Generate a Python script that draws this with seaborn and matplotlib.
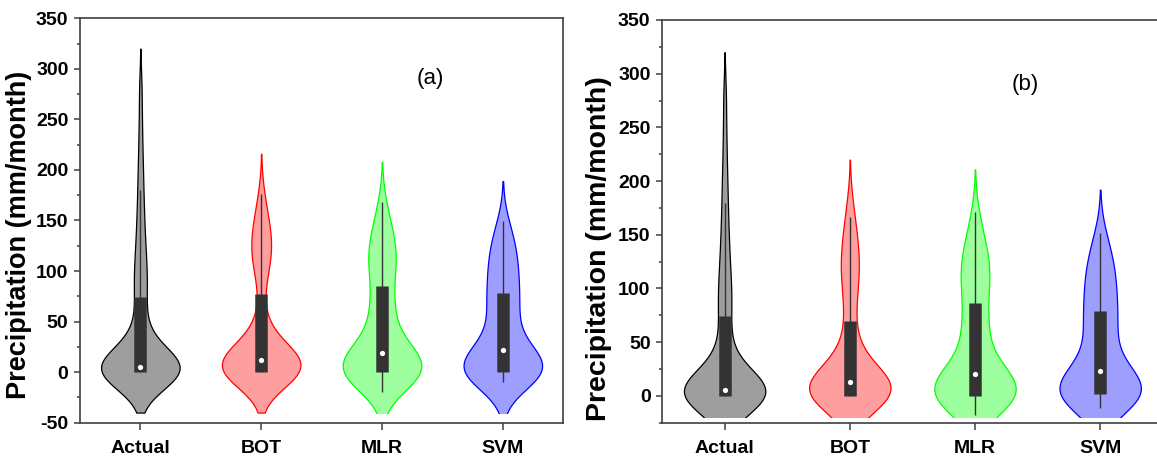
import numpy as np
import pandas as pd
import matplotlib.pyplot as plt
import matplotlib.colors as mcolors
from matplotlib.patches import Rectangle
from matplotlib.ticker import MultipleLocator
import seaborn as sns

# ==============================================================================
# Monthly precipitation samples (mm/month), read off the violins / boxes
# ==============================================================================
models = ["Actual", "BOT", "MLR", "SVM"]
edge_colors = ["#000000", "#ff0000", "#00ff00", "#0000ff"]

# observed series (same in both panels)
actual = [0, 0, 0, 0, 0, 0, 0, 0, 0, 0, 0, 0, 0, 0, 0, 0,
          0.3, 0.6, 0.9, 1.2, 1.5, 1.8, 2.1, 2.5, 2.9, 3.3, 3.7, 4.1, 4.5, 4.9,
          5.5, 7, 8.5, 10.5, 12.5, 15, 18, 21.5, 25.5, 30, 36, 43, 51, 61, 72,
          80, 86, 93, 100, 108, 117, 127, 138, 150, 164, 180, 197, 218, 245, 280]

# panel (a)
bot_a = [0, 0, 0, 0, 0, 0, 0, 0, 0, 0, 0, 0, 0, 0, 0, 0,
         0.5, 1, 1.5, 2, 3, 4, 5, 6, 7, 8, 9, 10, 11, 11.5,
         12.5, 13.5, 15, 16.5, 18, 20, 22, 24, 26.5, 29, 32, 36, 42, 55, 72,
         92, 100, 106, 111, 116, 120, 124, 128, 132, 137, 142, 148, 155, 164, 176]
mlr_a = [-20, -16, -12, -9, -7, -5, -3.5, -2.5, -1.5, -1, -0.5, 0, 0, 0, 0, 0,
         1, 2.5, 4, 5.5, 7, 8.5, 10, 11.5, 13, 14.5, 15.5, 16.5, 17.5, 18.5,
         19.5, 22, 25, 29, 33, 38, 43, 48, 53, 58, 63, 68, 73, 78, 82,
         94, 98, 102, 106, 110, 114, 118, 122, 126, 130, 135, 141, 148, 157, 168]
svm_a = [-10, -7, -5, -3.5, -2.5, -1.5, -1, -0.5, 0, 0, 0, 0, 0, 0, 0, 0,
         1, 2, 3, 4.5, 6, 7.5, 9, 10.5, 12, 14, 16, 18, 19.5, 21,
         23, 26, 30, 34, 39, 44, 49, 54, 58, 62, 66, 70, 73, 75, 76,
         84, 88, 92, 96, 100, 104, 108, 112, 116, 120, 125, 130, 136, 142, 149]

# panel (b)
bot_b = [0, 0, 0, 0, 0, 0, 0, 0, 0, 0, 0, 0, 0, 0, 0, 0,
         0.5, 1, 2, 3, 4, 5, 6, 7, 8, 9, 10, 11, 11.5, 12,
         13, 14.5, 16, 17.5, 19.5, 21.5, 24, 26.5, 29.5, 33, 37, 42, 49, 58, 67,
         79, 88, 96, 103, 109, 115, 120, 125, 130, 136, 142, 149, 157, 167, 180]
mlr_b = [-18, -13, -9, -6, -4, -3, -2, -1, -0.5, 0, 0, 0, 0, 0, 0, 0,
         1, 2.5, 4, 5.5, 7, 8.5, 10, 11.5, 13, 14.5, 16, 17, 18, 19,
         21, 24, 27.5, 31.5, 36, 41, 46, 51, 56, 61, 66, 71, 76, 80, 83,
         95, 99, 103, 107, 111, 115, 119, 123, 127, 131, 136, 142, 149, 158, 171]
svm_b = [-11, -8, -5.5, -3.5, -2, -1, -0.5, 0, 0, 0, 0.5, 0.8, 1, 1.2, 1.4, 1.6,
         2, 3, 4, 5.5, 7, 8.5, 10, 11.5, 13, 15, 17, 19, 20.5, 22,
         24, 27, 31, 35, 40, 45, 50, 55, 59, 63, 67, 71, 74, 76, 77,
         85, 89, 93, 97, 101, 105, 109, 113, 117, 121, 126, 131, 137, 144, 152]

KDE_BW = 20.0  # kernel bandwidth in mm/month, same for every violin


def long_df(groups):
    return pd.DataFrame({
        "model": np.repeat(models, [len(g) for g in groups]),
        "precip": np.concatenate(groups),
    })


def fixed_bw(kde):
    # gaussian_kde factor that gives a bandwidth of KDE_BW
    return KDE_BW / np.std(kde.dataset, ddof=1)


sns.set_style("ticks")
plt.rcParams["font.family"] = ["Liberation Sans", "DejaVu Sans"]
plt.rcParams["font.weight"] = "bold"
plt.rcParams["axes.unicode_minus"] = False
for key in ["text.color", "axes.labelcolor", "xtick.labelcolor", "ytick.labelcolor"]:
    plt.rcParams[key] = "black"

fig = plt.figure(figsize=(11.57, 4.65), dpi=100)
ax_a = fig.add_axes([0.0691, 0.091, 0.4177, 0.8697])
ax_b = fig.add_axes([0.5722, 0.091, 0.4328, 0.866])

panels = [
    (ax_a, [actual, bot_a, mlr_a, svm_a], (-50, 350), -40, "(a)", 19.5, 0.464),
    (ax_b, [actual, bot_b, mlr_b, svm_b], (-25, 350), -20, "(b)", 20.5, 0.433),
]

for ax, groups, ylim, floor, tag, label_size, label_y in panels:
    df = long_df(groups)
    sns.violinplot(data=df, x="model", y="precip", hue="model", order=models,
                   hue_order=models, palette=edge_colors, saturation=1, legend=False,
                   inner="box", cut=2, bw_method=fixed_bw, gridsize=250,
                   density_norm="width", width=0.65, linewidth=0.9,
                   inner_kws=dict(box_width=9, whis_width=1.0, color="#333333"),
                   ax=ax)

    # translucent fill, coloured outline, bottom cut off at the floor value
    for coll, c in zip(ax.collections, edge_colors):
        coll.set_facecolor(mcolors.to_rgba(c, 0.38))
        coll.set_edgecolor(c)
        coll.set_clip_path(Rectangle((-1, floor), 6, 500, transform=ax.transData))

    # square box ends and a white median dot
    for line in ax.lines:
        line.set_solid_capstyle("butt")
        if line.get_marker() not in (None, "None", ""):
            line.set_marker("o")
            line.set_markersize(3.8)
            line.set_markerfacecolor("white")
            line.set_markeredgecolor("white")
            line.set_markeredgewidth(0)

    ax.set_xlim(-0.5, 3.5)
    ax.set_ylim(*ylim)
    ax.yaxis.set_major_locator(MultipleLocator(50))
    ax.yaxis.set_minor_locator(MultipleLocator(25))
    ax.set_xlabel("")
    ax.set_ylabel("Precipitation (mm/month)", fontsize=label_size, fontweight="bold")
    ax.yaxis.set_label_coords(-0.10, label_y)

    ax.tick_params(axis="both", which="both", direction="out", color="#404040", width=1.1)
    ax.tick_params(axis="y", which="major", length=4.3, labelsize=14, pad=4)
    ax.tick_params(axis="y", which="minor", length=2)
    ax.tick_params(axis="x", which="major", length=4.8, labelsize=14, pad=8)
    for spine in ax.spines.values():
        spine.set_color("#404040")
        spine.set_linewidth(1.2)

    ax.text(2.4, 290, tag, ha="center", va="center", fontsize=16, fontweight="normal")

plt.savefig("out.png", dpi=100)
plt.close(fig)
